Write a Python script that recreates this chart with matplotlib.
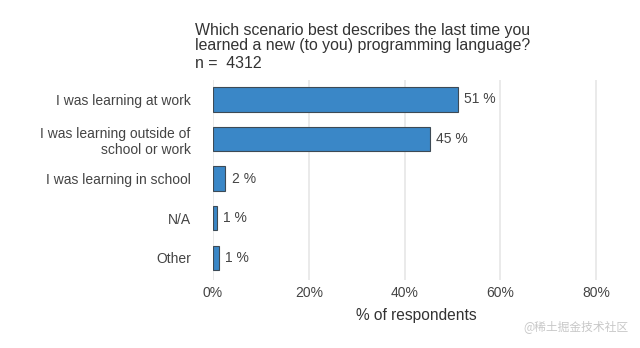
import numpy as np
import matplotlib.pyplot as plt

plt.rcParams['font.family'] = ['Liberation Sans', 'DejaVu Sans']

# survey answers, top to bottom
answers = ['I was learning at work',
           'I was learning outside of\nschool or work',
           'I was learning in school',
           'N/A',
           'Other']
share = [51.1, 45.3, 2.6, 0.8, 1.2]
share_labels = ['51 %', '45 %', '2 %', '1 %', '1 %']
x_ticks = [0, 20, 40, 60, 80]
x_tick_labels = ['0%', '20%', '40%', '60%', '80%']
n_resp = 4312

txt = '#444444'

fig = plt.figure(figsize=(6.4, 3.48), dpi=100)
ax = fig.add_axes([213 / 640, 68 / 348, 407 / 640, 200 / 348])

y = np.arange(len(answers))
ax.barh(y, share, height=0.62, color='#3a87c7', edgecolor='#3d4a55',
        linewidth=0.8, zorder=3)
for yi, v, lab in zip(y, share, share_labels):
    ax.text(v + 1.3, yi, lab, va='center', ha='left', fontsize=10, color=txt)

ax.set_xlim(0, 85)
ax.set_ylim(4.56, -0.49)
ax.set_xticks(x_ticks)
ax.set_xticklabels(x_tick_labels)
ax.set_yticks(y)
ax.set_yticklabels(answers)
ax.xaxis.grid(True, color='#e6e6e6', linewidth=1.2, zorder=0)
ax.set_axisbelow(True)
ax.tick_params(axis='y', length=0, pad=16, labelsize=10, labelcolor=txt)
ax.tick_params(axis='x', length=0, pad=4, labelsize=10, labelcolor=txt)
for s in ax.spines.values():
    s.set_visible(False)
ax.set_xlabel('% of respondents', fontsize=11.2, color='#333333', labelpad=6)

fig.text(195 / 640, 1 - 38 / 348,
         'Which scenario best describes the last time you\n'
         'learned a new (to you) programming language?',
         fontsize=11.4, color='#333333', va='center', ha='left', linespacing=1.05)
fig.text(195 / 640, 1 - 63 / 348, 'n =  %d' % n_resp,
         fontsize=11.4, color='#333333', va='center', ha='left')

fig.text(628 / 640, 1 - 327 / 348, '@稀土掘金技术社区', fontsize=8.5,
         color='#c8c8c8', ha='right', va='center',
         family=['Noto Sans CJK SC', 'DejaVu Sans'])

fig.savefig('out.png', dpi=100)
